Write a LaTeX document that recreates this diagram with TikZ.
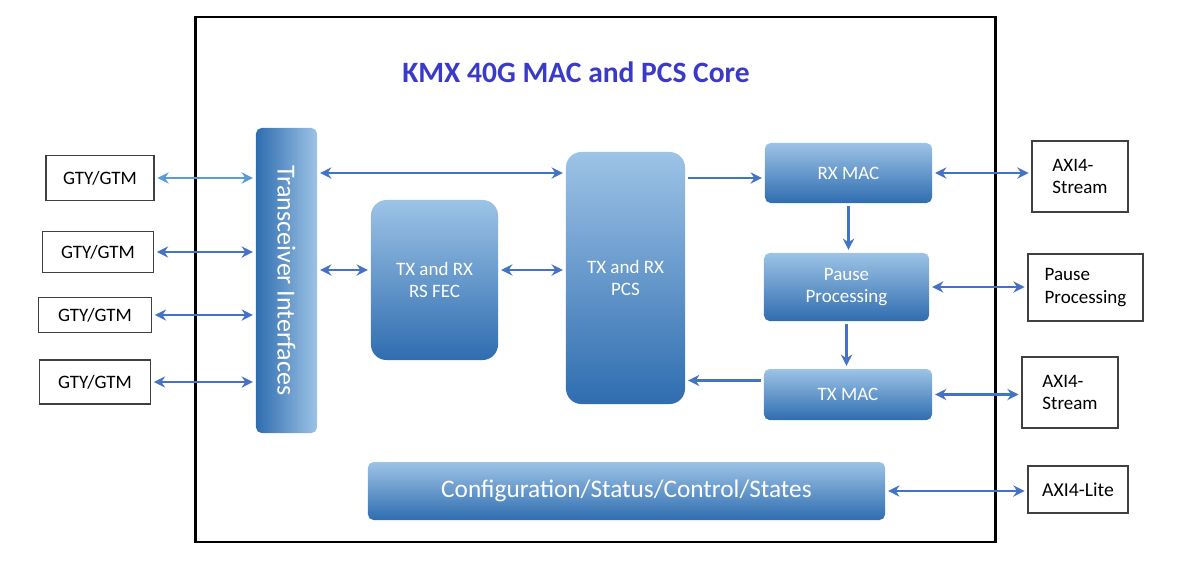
\documentclass[tikz,border=0pt]{standalone}
\usepackage{fontspec}
\setmainfont{Carlito}
\usetikzlibrary{arrows.meta, positioning}
\definecolor{blockhi}{HTML}{9DC3E6}
\definecolor{blocklo}{HTML}{2F6DB0}
\definecolor{linkblue}{HTML}{4472C4}
\definecolor{linklight}{HTML}{5B9BD5}
\definecolor{titleblue}{HTML}{3A3AC8}

\begin{document}
\begin{tikzpicture}[
    x=0.025cm, y=-0.025cm,
    block/.style={rounded corners=4pt, top color=blockhi, bottom color=blocklo, text=white, align=center, font=\fontsize{13.5}{16}\selectfont, inner sep=2pt},
    port/.style={draw=black!75, line width=0.8pt, fill=white, align=left, font=\fontsize{13.5}{16}\selectfont, inner sep=2pt},
    link/.style={draw=linkblue, line width=1.9pt, {Stealth[length=8pt,width=8pt]}-{Stealth[length=8pt,width=8pt]}, shorten <=2pt, shorten >=2pt},
    flow/.style={draw=linkblue, line width=1.9pt, -{Stealth[length=8pt,width=8pt]}, shorten <=2pt, shorten >=2pt},
    >=Stealth
]
    \useasboundingbox (0,0) rectangle (1188,567);

    % Core frame
    \node[draw, line width=2pt, minimum width=19.975cm, minimum height=13.125cm] (core) at (595.5,279.5) {};
    \node[font=\fontsize{21}{24}\selectfont\bfseries, text=titleblue] (title) at (576,72) {KMX 40G MAC and PCS Core};

    % Blocks
    \node[block, minimum width=1.525cm, minimum height=7.625cm, left color=blocklo, right color=blockhi, font=\fontsize{18.5}{20}\selectfont] (trx) at (286.5,280.5) {\rotatebox{-90}{Transceiver Interfaces}};
    \node[block, rounded corners=11pt, minimum width=3.175cm, minimum height=4cm] (fec) at (434.5,280) {TX and RX\\RS FEC};
    \node[block, rounded corners=11pt, minimum width=2.975cm, minimum height=6.3cm] (pcs) at (625.5,278) {TX and RX\\PCS};
    \node[block, minimum width=4.175cm, minimum height=1.5cm] (rxmac) at (848.5,173) {RX MAC};
    \node[block, minimum width=4.125cm, minimum height=1.7cm] (pause) at (846.5,287) {Pause\\Processing};
    \node[block, minimum width=4.2cm, minimum height=1.275cm] (txmac) at (848,394.5) {TX MAC};
    \node[block, minimum width=12.925cm, minimum height=1.45cm, font=\fontsize{18}{20}\selectfont] (cfg) at (626.5,491) {Configuration/Status/Control/States};

    % Ports
    \node[port, minimum width=2.7cm, minimum height=1.125cm] (gty1) at (100,178) {GTY/GTM};
    \node[port, minimum width=2.775cm, minimum height=1.025cm] (gty2) at (98,252) {GTY/GTM};
    \node[port, minimum width=2.825cm, minimum height=0.875cm] (gty3) at (95,315) {GTY/GTM};
    \node[port, minimum width=2.775cm, minimum height=1.1cm] (gty4) at (95,382) {GTY/GTM};
    \node[port, minimum width=2.4cm, minimum height=1.775cm] (axis1) at (1080,176.5) {AXI4-\\Stream};
    \node[port, minimum width=2.875cm, minimum height=1.675cm] (pausep) at (1085.5,287.5) {Pause\\Processing};
    \node[port, minimum width=2.4cm, minimum height=1.775cm] (axis2) at (1070,392.5) {AXI4-\\Stream};
    \node[port, minimum width=2.5cm, minimum height=1.175cm, font=\fontsize{14}{16}\selectfont] (axil) at (1078,489.5) {AXI4-Lite};

    % Connections
    \draw[link, draw=linklight] (gty1.east) -- (gty1.east -| trx.west);
    \draw[link] (gty2.east) -- (gty2.east -| trx.west);
    \draw[link] (gty3.east) -- (gty3.east -| trx.west);
    \draw[link] (gty4.east) -- (gty4.east -| trx.west);
    \draw[link] (trx.east |- rxmac.west) -- (pcs.west |- rxmac.west);
    \draw[link] ([yshift=0.25cm]fec.west -| trx.east) -- ([yshift=0.25cm]fec.west);
    \draw[link] ([yshift=0.25cm]fec.east) -- ([yshift=0.25cm]fec.east -| pcs.west);
    \draw[flow] ([yshift=-0.125cm]rxmac.west -| pcs.east) -- ([yshift=-0.125cm]rxmac.west);
    \draw[flow] ([yshift=0.35cm]txmac.west) -- ([yshift=0.35cm]txmac.west -| pcs.east);
    \draw[flow] (rxmac.south) -- (rxmac.south |- pause.north);
    \draw[flow] (pause.south) -- (pause.south |- txmac.north);
    \draw[link] (rxmac.east) -- (rxmac.east -| axis1.west);
    \draw[link] (pause.east) -- (pause.east -| pausep.west);
    \draw[link] (txmac.east) -- (txmac.east -| axis2.west);
    \draw[link] (cfg.east) -- (cfg.east -| axil.west);
\end{tikzpicture}
\end{document}
